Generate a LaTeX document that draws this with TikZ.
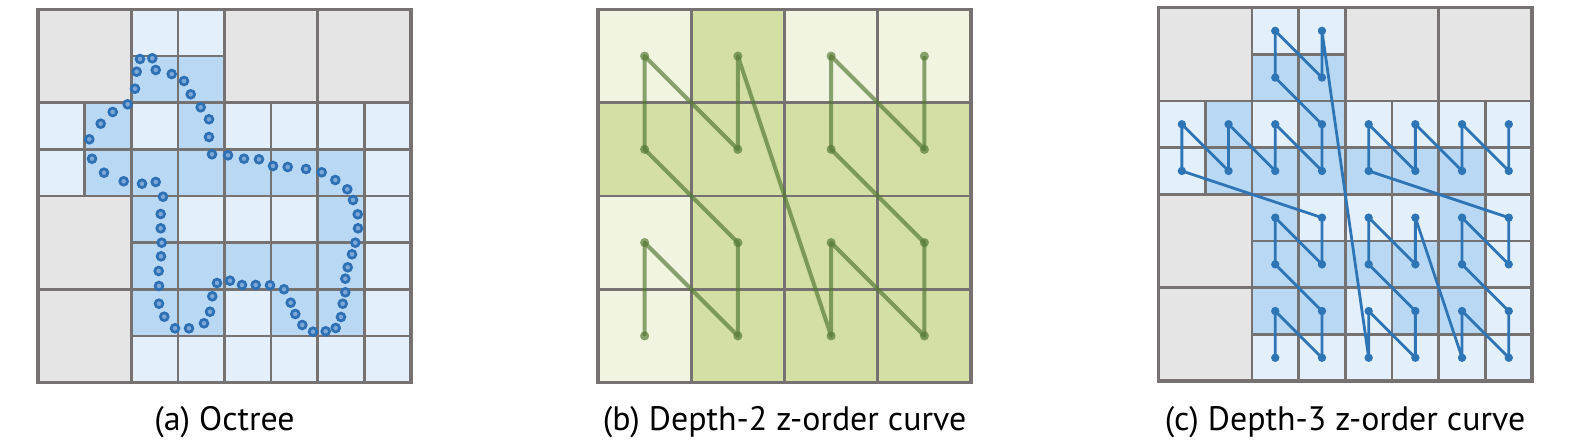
\documentclass[tikz,border=0pt]{standalone}
\usepackage{fontspec}
\setmainfont{PT Sans}
\definecolor{gridgray}{RGB}{118,114,114}
\definecolor{graycell}{RGB}{229,229,229}
\definecolor{lightblue}{RGB}{227,240,251}
\definecolor{midblue}{RGB}{184,216,243}
\definecolor{dotblue}{RGB}{46,112,180}
\definecolor{dotfill}{RGB}{125,168,215}
\definecolor{curveblue}{RGB}{46,117,182}
\definecolor{lightgreen}{RGB}{240,244,224}
\definecolor{midgreen}{RGB}{211,223,163}
\definecolor{curvegreen}{RGB}{84,122,52}
\tikzset{
  cellbox/.style={draw=gridgray, line width=2.7bp},
  outerbox/.style={draw=gridgray, line width=3.6bp},
  adot/.style={draw=dotblue, line width=2.7bp, fill=dotfill},
  curvec/.style={draw=curveblue, line width=2.8bp, line join=round},
  dotc/.style={fill=curveblue},
  curveb/.style={draw=curvegreen, line width=4bp, draw opacity=0.68, line join=round},
  dotb/.style={fill=curvegreen, fill opacity=0.68},
  caption/.style={anchor=base, font=\fontsize{34}{40}\selectfont, inner sep=0pt}
}
\newcommand\octreegrid{%
  \foreach \i/\j in {0/0,4/0,6/0,0/4,0/6}
    \draw[cellbox, fill=graycell] (\i,\j) rectangle +(2,2);
  \foreach \i/\j in {2/0,3/0,0/2,2/2,4/2,5/2,6/2,7/2,0/3,7/3,3/4,4/4,5/4,7/4,7/5,4/6,7/6,2/7,3/7,4/7,5/7,6/7,7/7}
    \draw[cellbox, fill=lightblue] (\i,\j) rectangle +(1,1);
  \foreach \i/\j in {2/1,3/1,1/2,3/2,1/3,2/3,3/3,4/3,5/3,6/3,2/4,6/4,2/5,3/5,4/5,5/5,6/5,2/6,3/6,5/6,6/6}
    \draw[cellbox, fill=midblue] (\i,\j) rectangle +(1,1);
  \draw[outerbox] (0,0) rectangle (8,8);
}
\begin{document}
\begin{tikzpicture}[x=1bp, y=-1bp]
\useasboundingbox (0,0) rectangle (1577,446);

% ---------- (a) Octree ----------
\begin{scope}[shift={(38,9.5)}, x=46.625bp, y=-46.625bp]
  \octreegrid
\end{scope}
\foreach \px/\py in {140.0/59.0,152.3/58.3,136.7/71.7,155.7/70.0,171.7/74.0,184.0/81.0,190.7/94.3,135.0/88.7,127.7/104.3,112.7/112.0,100.7/123.7,89.3/139.3,92.0/158.7,104.0/172.7,123.7/181.3,142.0/183.7,155.7/182.0,163.0/196.7,160.7/214.0,160.7/228.3,161.7/242.7,161.0/256.3,158.7/271.0,159.0/286.0,159.0/303.7,164.3/316.7,175.0/328.3,189.0/328.3,204.0/323.3,210.0/311.7,212.3/296.3,217.0/283.0,230.0/280.7,242.0/285.0,255.7/285.0,270.0/285.3,284.0/289.3,290.7/302.7,295.3/314.0,302.3/325.0,313.0/331.7,325.7/331.3,335.7/328.0,341.0/317.0,342.7/303.7,345.3/292.3,345.3/278.7,347.7/267.3,352.0/254.3,355.3/242.7,358.0/228.3,357.7/214.3,353.0/200.0,347.3/189.3,335.3/180.0,321.7/172.3,306.0/169.0,287.7/167.0,273.0/166.0,259.0/159.3,244.0/158.7,228.0/155.3,212.0/154.3,209.0/137.0,209.0/119.3,200.7/107.3}
  \draw[adot] (\px,\py) circle (3.9bp);
\node[caption] (capa) at (224.5,430) {(a) Octree};

% ---------- (b) Depth-2 z-order curve ----------
\begin{scope}[shift={(598,9.5)}, x=93.25bp, y=-93.25bp]
  \foreach \i/\j in {0/0,2/0,3/0,0/2,0/3}
    \draw[cellbox, fill=lightgreen] (\i,\j) rectangle +(1,1);
  \foreach \i/\j in {1/0,0/1,1/1,2/1,3/1,1/2,2/2,3/2,1/3,2/3,3/3}
    \draw[cellbox, fill=midgreen] (\i,\j) rectangle +(1,1);
  \draw[outerbox] (0,0) rectangle (4,4);
  \foreach \i in {0,...,3}
    \foreach \j in {0,...,3}
      \coordinate (b-\i-\j) at (\i+0.5,\j+0.5);
\end{scope}
\draw[curveb] (b-0-3) -- (b-0-2) -- (b-1-3) -- (b-1-2) -- (b-0-1) -- (b-0-0) -- (b-1-1) -- (b-1-0)
  -- (b-2-3) -- (b-2-2) -- (b-3-3) -- (b-3-2) -- (b-2-1) -- (b-2-0) -- (b-3-1) -- (b-3-0);
\foreach \i in {0,...,3}
  \foreach \j in {0,...,3}
    \fill[dotb] (b-\i-\j) circle (4.6bp);
\node[caption] (capb) at (784.5,430) {(b) Depth-2 z-order curve};

% ---------- (c) Depth-3 z-order curve ----------
\begin{scope}[shift={(1158.5,7.5)}, x=46.7bp, y=-46.7bp]
  \octreegrid
  \foreach \i in {0,...,7}
    \foreach \j in {0,...,7}
      \coordinate (c-\i-\j) at (\i+0.5,\j+0.5);
\end{scope}
\draw[curvec] (c-2-7) -- (c-2-6) -- (c-3-7) -- (c-3-6) -- (c-2-5) -- (c-2-4) -- (c-3-5) -- (c-3-4)
  -- (c-0-3) -- (c-0-2) -- (c-1-3) -- (c-1-2) -- (c-2-3) -- (c-2-2) -- (c-3-3) -- (c-3-2)
  -- (c-2-1) -- (c-2-0) -- (c-3-1) -- (c-3-0)
  -- (c-4-7) -- (c-4-6) -- (c-5-7) -- (c-5-6) -- (c-4-5) -- (c-4-4) -- (c-5-5) -- (c-5-4)
  -- (c-6-7) -- (c-6-6) -- (c-7-7) -- (c-7-6) -- (c-6-5) -- (c-6-4) -- (c-7-5) -- (c-7-4)
  -- (c-4-3) -- (c-4-2) -- (c-5-3) -- (c-5-2) -- (c-6-3) -- (c-6-2) -- (c-7-3) -- (c-7-2);
\foreach \p in {2-7,2-6,3-7,3-6,2-5,2-4,3-5,3-4,0-3,0-2,1-3,1-2,2-3,2-2,3-3,3-2,2-1,2-0,3-1,3-0,4-7,4-6,5-7,5-6,4-5,4-4,5-5,5-4,6-7,6-6,7-7,7-6,6-5,6-4,7-5,7-4,4-3,4-2,5-3,5-2,6-3,6-2,7-3,7-2}
  \fill[dotc] (c-\p) circle (4.2bp);
\node[caption] (capc) at (1345,430) {(c) Depth-3 z-order curve};
\end{tikzpicture}
\end{document}
